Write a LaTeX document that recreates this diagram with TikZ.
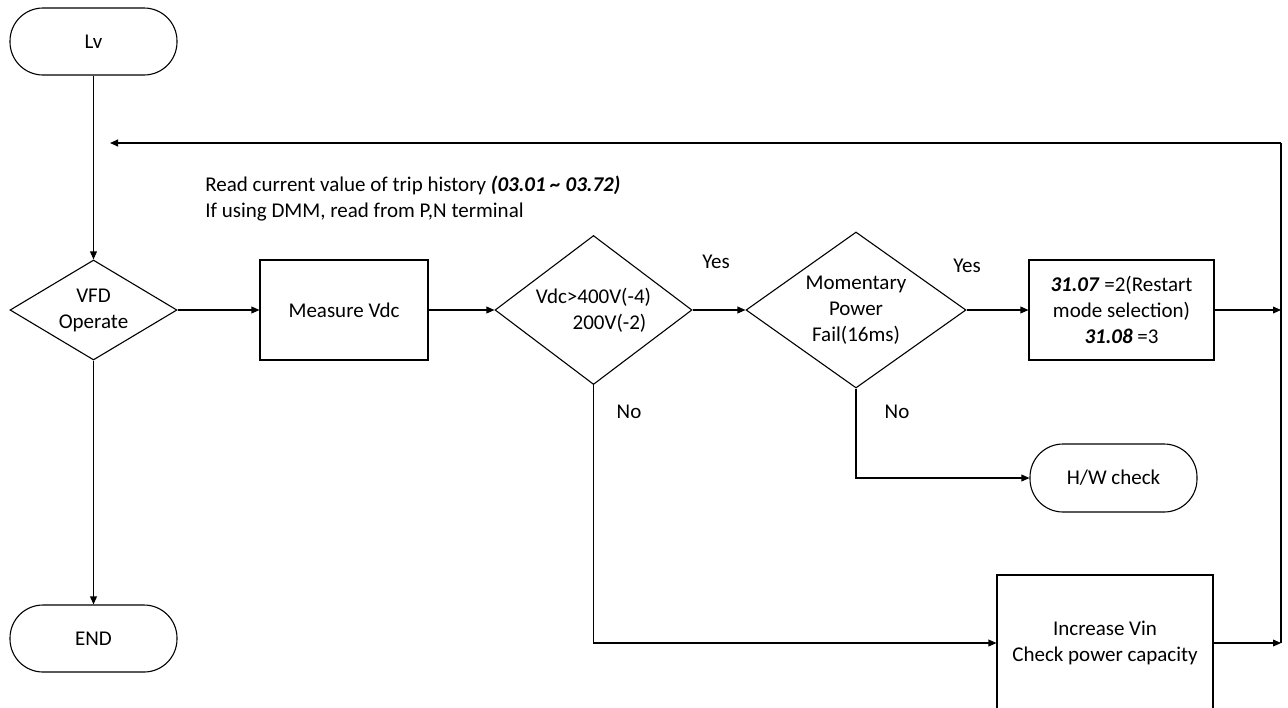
\documentclass[tikz,border=0pt]{standalone}
\usepackage{fontspec}
\setmainfont{Carlito}
\usetikzlibrary{shapes.geometric,arrows.meta}
\begin{document}
\begin{tikzpicture}[x=0.5pt,y=-0.5pt,
  every node/.style={font=\fontsize{10.5}{13}\selectfont, inner sep=0pt, align=center},
  line/.style={line width=0.55pt, draw=black},
  arr/.style={line, -{Triangle[length=4pt,width=3.4pt]}},
  term/.style={line, rectangle, rounded corners=16.5pt, minimum width=83.5pt, minimum height=33.5pt},
  proc/.style={line, rectangle},
  dec/.style={line, diamond, inner sep=0pt}]
\useasboundingbox (0,0) rectangle (1288,707);
\node[term] (lv) at (93.5,41.5) {Lv};
\node[dec, minimum width=83.5pt, minimum height=50pt, aspect=1.67] (vfd) at (93.5,310) {VFD\\Operate};
\node[term] (endn) at (93.5,638.5) {END};
\node[proc, minimum width=84pt, minimum height=50pt] (meas) at (344,310) {Measure Vdc};
\node[dec, minimum width=98.5pt, minimum height=74.5pt, aspect=1.32] (vdc) at (593.5,310) {Vdc>400V(-4)\\\hspace*{16pt}200V(-2)};
\node[dec, minimum width=110pt, minimum height=78pt, aspect=1.42] (mom) at (856,310) {Momentary\\Power\\Fail(16ms)};
\node[proc, minimum width=92.5pt, minimum height=50pt] (rs) at (1121.5,310) {\textbf{\textit{31.07}} =2(Restart\\mode selection)\\\textbf{\textit{31.08}} =3};
\node[term, minimum height=34pt] (hw) at (1113.5,478) {H/W check};
\node[proc, minimum width=108pt, minimum height=68pt] (inc) at (1105,643) {Increase Vin\\Check power capacity};
\node[anchor=west, align=left] (note) at (205,199) {Read current value of trip history \textbf{\textit{(03.01 \textasciitilde\ 03.72)}}\\If using DMM, read from P,N terminal};
\node (yes1) at (716,262) {Yes};
\node (yes2) at (967,266) {Yes};
\node (no1) at (629,412) {No};
\node (no2) at (897,412) {No};
\coordinate (rt) at (1281,143);
\coordinate (r1) at (1281,310);
\coordinate (r2) at (1281,643);
\coordinate (lt) at (110,143);
\coordinate (nb) at (593.5,643);
\coordinate (mb) at (856,478);
\draw[arr] (lv) -- (vfd);
\draw[arr] (vfd) -- (endn);
\draw[arr] (vfd) -- (meas);
\draw[arr] (meas) -- (vdc);
\draw[arr] (vdc) -- (mom);
\draw[arr] (mom) -- (rs);
\draw[arr] (rs) -- (r1);
\draw[arr] (inc.east) -- (r2);
\draw[arr] (vdc.south) -- (nb) -- (inc.west);
\draw[arr] (mom.south) -- (mb) -- (hw.west);
\draw[line, line width=0.75pt] (r2) -- (rt);
\draw[arr, line width=0.75pt] (rt) -- (lt);
\end{tikzpicture}
\end{document}
